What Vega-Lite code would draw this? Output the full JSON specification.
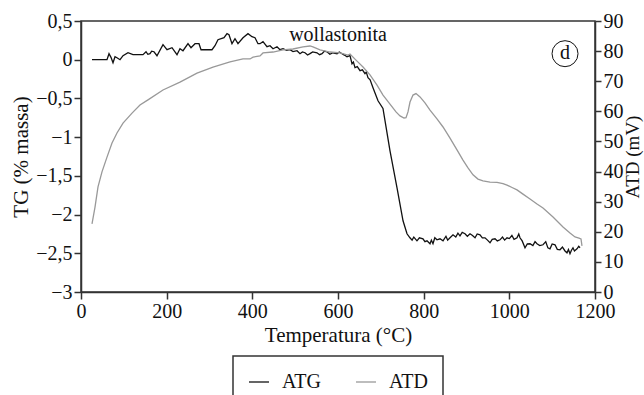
{
  "$schema": "https://vega.github.io/schema/vega-lite/v6.json",
  "width": 514,
  "height": 271,
  "autosize": "none",
  "padding": {"left": 81, "top": 21, "right": 49, "bottom": 103},
  "config": {
    "font": "Liberation Serif",
    "view": {"stroke": "#333", "strokeWidth": 1.5},
    "axis": {
      "grid": false,
      "labelFlush": false,
      "labelOverlap": false,
      "domainColor": "#333",
      "domainWidth": 1.5,
      "tickColor": "#333",
      "tickWidth": 1.5,
      "tickSize": 7,
      "labelFont": "Liberation Serif",
      "labelFontSize": 20,
      "labelColor": "#111",
      "labelPadding": 2,
      "titleFont": "Liberation Serif",
      "titleFontSize": 21,
      "titleFontWeight": "normal",
      "titleColor": "#111"
    },
    "legend": {
      "labelFont": "Liberation Serif",
      "labelFontSize": 20,
      "labelColor": "#111",
      "strokeColor": "#333",
      "strokeWidth": 1.5
    }
  },
  "datasets": {
    "tg": [
      {"s":"ATG","T":25.7,"v":0},{"s":"ATG","T":60.7,"v":0},{"s":"ATG","T":65.4,"v":0.078},{"s":"ATG","T":70,"v":0.03},{"s":"ATG","T":74.7,"v":-0.039},{"s":"ATG","T":79.4,"v":0.039},{"s":"ATG","T":84,"v":0.026},{"s":"ATG","T":91.1,"v":0},{"s":"ATG","T":98.1,"v":0.052},{"s":"ATG","T":109.7,"v":0.09},{"s":"ATG","T":121.4,"v":0.065},{"s":"ATG","T":144.7,"v":0.065},{"s":"ATG","T":151.8,"v":0.103},{"s":"ATG","T":156,"v":0.07},{"s":"ATG","T":161.1,"v":0.078},{"s":"ATG","T":165,"v":0.11},{"s":"ATG","T":170.4,"v":0.103},{"s":"ATG","T":177.4,"v":0.052},{"s":"ATG","T":191.4,"v":0.194},{"s":"ATG","T":200.8,"v":0.129},{"s":"ATG","T":212.5,"v":0.155},{"s":"ATG","T":224.1,"v":0.065},{"s":"ATG","T":231.1,"v":0.142},{"s":"ATG","T":238.1,"v":0.116},{"s":"ATG","T":249.8,"v":0.207},{"s":"ATG","T":256.8,"v":0.155},{"s":"ATG","T":266.2,"v":0.207},{"s":"ATG","T":275.5,"v":0.207},{"s":"ATG","T":280.2,"v":0.129},{"s":"ATG","T":305.8,"v":0.129},{"s":"ATG","T":312.8,"v":0.181},{"s":"ATG","T":319.8,"v":0.258},{"s":"ATG","T":333.9,"v":0.284},{"s":"ATG","T":340.9,"v":0.336},{"s":"ATG","T":345.5,"v":0.323},{"s":"ATG","T":352.5,"v":0.207},{"s":"ATG","T":359.5,"v":0.271},{"s":"ATG","T":366.5,"v":0.207},{"s":"ATG","T":378.2,"v":0.284},{"s":"ATG","T":389.9,"v":0.336},{"s":"ATG","T":399.2,"v":0.297},{"s":"ATG","T":406.2,"v":0.284},{"s":"ATG","T":413.2,"v":0.207},{"s":"ATG","T":417.9,"v":0.207},{"s":"ATG","T":424.9,"v":0.233},{"s":"ATG","T":434.2,"v":0.168},{"s":"ATG","T":441.3,"v":0.181},{"s":"ATG","T":448.3,"v":0.142},{"s":"ATG","T":457.6,"v":0.168},{"s":"ATG","T":464.6,"v":0.129},{"s":"ATG","T":471.6,"v":0.142},{"s":"ATG","T":480,"v":0.12},{"s":"ATG","T":487.9,"v":0.129},{"s":"ATG","T":495,"v":0.105},{"s":"ATG","T":504.3,"v":0.116},{"s":"ATG","T":511.3,"v":0.078},{"s":"ATG","T":517,"v":0.1},{"s":"ATG","T":523,"v":0.09},{"s":"ATG","T":529,"v":0.06},{"s":"ATG","T":534.6,"v":0.078},{"s":"ATG","T":541,"v":0.1},{"s":"ATG","T":551,"v":0.09},{"s":"ATG","T":557,"v":0.065},{"s":"ATG","T":562.7,"v":0.078},{"s":"ATG","T":568,"v":0.11},{"s":"ATG","T":574.3,"v":0.103},{"s":"ATG","T":581,"v":0.07},{"s":"ATG","T":588.3,"v":0.09},{"s":"ATG","T":597.7,"v":0.078},{"s":"ATG","T":603,"v":0.1},{"s":"ATG","T":609.3,"v":0.078},{"s":"ATG","T":615,"v":0.06},{"s":"ATG","T":621,"v":0.039},{"s":"ATG","T":628,"v":0.052},{"s":"ATG","T":632.7,"v":-0.052},{"s":"ATG","T":636,"v":-0.03},{"s":"ATG","T":639.7,"v":-0.103},{"s":"ATG","T":645,"v":-0.09},{"s":"ATG","T":651.4,"v":-0.142},{"s":"ATG","T":657,"v":-0.13},{"s":"ATG","T":663,"v":-0.181},{"s":"ATG","T":666,"v":-0.16},{"s":"ATG","T":670,"v":-0.233},{"s":"ATG","T":675,"v":-0.26},{"s":"ATG","T":681.7,"v":-0.362},{"s":"ATG","T":693.4,"v":-0.53},{"s":"ATG","T":705,"v":-0.63},{"s":"ATG","T":721.4,"v":-1.176},{"s":"ATG","T":737.8,"v":-1.654},{"s":"ATG","T":751.8,"v":-2.08},{"s":"ATG","T":761.1,"v":-2.248},{"s":"ATG","T":768,"v":-2.3},{"s":"ATG","T":773,"v":-2.33},{"s":"ATG","T":777,"v":-2.29},{"s":"ATG","T":784.4,"v":-2.339},{"s":"ATG","T":790,"v":-2.3},{"s":"ATG","T":798.4,"v":-2.313},{"s":"ATG","T":803,"v":-2.35},{"s":"ATG","T":807.8,"v":-2.339},{"s":"ATG","T":814.8,"v":-2.377},{"s":"ATG","T":818,"v":-2.33},{"s":"ATG","T":821.8,"v":-2.377},{"s":"ATG","T":826,"v":-2.3},{"s":"ATG","T":831.1,"v":-2.326},{"s":"ATG","T":838.1,"v":-2.313},{"s":"ATG","T":845.2,"v":-2.339},{"s":"ATG","T":852,"v":-2.28},{"s":"ATG","T":856,"v":-2.33},{"s":"ATG","T":861.5,"v":-2.3},{"s":"ATG","T":868.5,"v":-2.261},{"s":"ATG","T":875,"v":-2.29},{"s":"ATG","T":880,"v":-2.24},{"s":"ATG","T":884.8,"v":-2.274},{"s":"ATG","T":890,"v":-2.23},{"s":"ATG","T":896.5,"v":-2.248},{"s":"ATG","T":902,"v":-2.28},{"s":"ATG","T":908.2,"v":-2.248},{"s":"ATG","T":914,"v":-2.27},{"s":"ATG","T":919.9,"v":-2.3},{"s":"ATG","T":925,"v":-2.25},{"s":"ATG","T":931.5,"v":-2.261},{"s":"ATG","T":937,"v":-2.3},{"s":"ATG","T":943.2,"v":-2.3},{"s":"ATG","T":949,"v":-2.33},{"s":"ATG","T":954.9,"v":-2.364},{"s":"ATG","T":960,"v":-2.32},{"s":"ATG","T":966.6,"v":-2.313},{"s":"ATG","T":972,"v":-2.34},{"s":"ATG","T":978.2,"v":-2.326},{"s":"ATG","T":984,"v":-2.29},{"s":"ATG","T":989,"v":-2.33},{"s":"ATG","T":994.6,"v":-2.3},{"s":"ATG","T":1000,"v":-2.31},{"s":"ATG","T":1006,"v":-2.27},{"s":"ATG","T":1011,"v":-2.32},{"s":"ATG","T":1017.9,"v":-2.3},{"s":"ATG","T":1022,"v":-2.25},{"s":"ATG","T":1024.9,"v":-2.3},{"s":"ATG","T":1030,"v":-2.34},{"s":"ATG","T":1036.6,"v":-2.429},{"s":"ATG","T":1042,"v":-2.38},{"s":"ATG","T":1048.3,"v":-2.377},{"s":"ATG","T":1055,"v":-2.4},{"s":"ATG","T":1060,"v":-2.35},{"s":"ATG","T":1064.6,"v":-2.377},{"s":"ATG","T":1071,"v":-2.4},{"s":"ATG","T":1078.6,"v":-2.39},{"s":"ATG","T":1085,"v":-2.35},{"s":"ATG","T":1090,"v":-2.43},{"s":"ATG","T":1094.9,"v":-2.442},{"s":"ATG","T":1100,"v":-2.38},{"s":"ATG","T":1106.6,"v":-2.39},{"s":"ATG","T":1112,"v":-2.45},{"s":"ATG","T":1118.3,"v":-2.455},{"s":"ATG","T":1124,"v":-2.42},{"s":"ATG","T":1130,"v":-2.47},{"s":"ATG","T":1134.6,"v":-2.494},{"s":"ATG","T":1138,"v":-2.45},{"s":"ATG","T":1141.6,"v":-2.506},{"s":"ATG","T":1145,"v":-2.46},{"s":"ATG","T":1148.6,"v":-2.429},{"s":"ATG","T":1152,"v":-2.47},{"s":"ATG","T":1158,"v":-2.442},{"s":"ATG","T":1162,"v":-2.41},{"s":"ATG","T":1165,"v":-2.429}
    ],
    "dta": [
      {"s":"ATD","T":25.7,"v":22.6},{"s":"ATD","T":32.7,"v":28.2},{"s":"ATD","T":39.7,"v":34.9},{"s":"ATD","T":49,"v":39.9},{"s":"ATD","T":60.7,"v":44.8},{"s":"ATD","T":72.4,"v":49.5},{"s":"ATD","T":84,"v":52.8},{"s":"ATD","T":98.1,"v":56.1},{"s":"ATD","T":119.1,"v":59.4},{"s":"ATD","T":137.7,"v":62.1},{"s":"ATD","T":156.4,"v":63.8},{"s":"ATD","T":191.4,"v":67.1},{"s":"ATD","T":231.1,"v":69.7},{"s":"ATD","T":270.8,"v":72.7},{"s":"ATD","T":308.2,"v":74.7},{"s":"ATD","T":347.9,"v":76.4},{"s":"ATD","T":378.2,"v":77.4},{"s":"ATD","T":394.6,"v":77.4},{"s":"ATD","T":401.6,"v":78},{"s":"ATD","T":417.9,"v":78.4},{"s":"ATD","T":424.9,"v":79.4},{"s":"ATD","T":448.3,"v":79.7},{"s":"ATD","T":471.6,"v":80.4},{"s":"ATD","T":494.9,"v":80.7},{"s":"ATD","T":518.3,"v":81.4},{"s":"ATD","T":534.6,"v":81.7},{"s":"ATD","T":541.6,"v":81.4},{"s":"ATD","T":558,"v":80.4},{"s":"ATD","T":581.3,"v":79.7},{"s":"ATD","T":604.7,"v":79.4},{"s":"ATD","T":623.3,"v":78.7},{"s":"ATD","T":628,"v":79},{"s":"ATD","T":642,"v":77},{"s":"ATD","T":658.4,"v":74.7},{"s":"ATD","T":674.7,"v":72.1},{"s":"ATD","T":691.1,"v":68.7},{"s":"ATD","T":705.1,"v":65.4},{"s":"ATD","T":721.4,"v":62.4},{"s":"ATD","T":735.4,"v":59.8},{"s":"ATD","T":744.8,"v":58.5},{"s":"ATD","T":754.1,"v":57.8},{"s":"ATD","T":758.8,"v":57.9},{"s":"ATD","T":763.4,"v":59.8},{"s":"ATD","T":768.1,"v":63.1},{"s":"ATD","T":775.1,"v":65.4},{"s":"ATD","T":782.1,"v":65.9},{"s":"ATD","T":791.5,"v":64.8},{"s":"ATD","T":803.1,"v":62.8},{"s":"ATD","T":814.8,"v":60.4},{"s":"ATD","T":831.1,"v":57.5},{"s":"ATD","T":845.2,"v":54.8},{"s":"ATD","T":861.5,"v":51.1},{"s":"ATD","T":877.8,"v":47.2},{"s":"ATD","T":891.8,"v":43.8},{"s":"ATD","T":903.5,"v":41.2},{"s":"ATD","T":915.2,"v":38.9},{"s":"ATD","T":926.8,"v":37.5},{"s":"ATD","T":938.5,"v":36.9},{"s":"ATD","T":954.9,"v":36.5},{"s":"ATD","T":971.2,"v":36.4},{"s":"ATD","T":985.2,"v":36},{"s":"ATD","T":994.6,"v":35.5},{"s":"ATD","T":1006.3,"v":34.7},{"s":"ATD","T":1017.9,"v":33.9},{"s":"ATD","T":1031.9,"v":32.5},{"s":"ATD","T":1048.3,"v":30.9},{"s":"ATD","T":1064.6,"v":29.2},{"s":"ATD","T":1078.6,"v":27.9},{"s":"ATD","T":1102,"v":24.9},{"s":"ATD","T":1125.3,"v":21.6},{"s":"ATD","T":1141.6,"v":19.6},{"s":"ATD","T":1153.3,"v":18.3},{"s":"ATD","T":1162.6,"v":17.9},{"s":"ATD","T":1167.3,"v":17.6},{"s":"ATD","T":1169.6,"v":15.3}
    ],
    "notes": [
      {"T": 600, "v": 0.245, "txt": "wollastonita"}
    ],
    "panel": [
      {"T": 1130, "v": 0.078, "txt": "d"}
    ]
  },
  "encoding": {
    "x": {
      "field": "T", "type": "quantitative",
      "scale": {"domain": [0, 1200], "nice": false},
      "axis": {"values": [0, 200, 400, 600, 800, 1000, 1200], "format": "d", "title": "Temperatura (°C)", "titlePadding": 3}
    }
  },
  "layer": [
    {
      "encoding": {
        "y": {
          "field": "v", "type": "quantitative",
          "scale": {"domain": [-3, 0.5], "nice": false},
          "axis": {
            "values": [-3, -2.5, -2, -1.5, -1, -0.5, 0, 0.5],
            "format": ".1~f",
            "labelExpr": "replace(datum.label, '.', ',')",
            "title": "TG (% massa)",
            "titlePadding": 4
          }
        }
      },
      "layer": [
        {
          "data": {"name": "tg"},
          "mark": {"type": "line", "strokeWidth": 1.3, "interpolate": "linear"},
          "encoding": {
            "color": {
              "field": "s", "type": "nominal",
              "scale": {"domain": ["ATG", "ATD"], "range": ["#111111", "#999999"]},
              "legend": {
                "title": null,
                "orient": "none",
                "direction": "horizontal",
                "legendX": 152,
                "legendY": 335,
                "padding": 15,
                "symbolType": "stroke",
                "symbolSize": 400,
                "symbolStrokeWidth": 1.3,
                "labelOffset": 12,
                "columnPadding": 32
              }
            }
          }
        },
        {
          "data": {"name": "notes"},
          "mark": {"type": "text", "fontSize": 20, "baseline": "alphabetic", "align": "center", "color": "#111"},
          "encoding": {
            "text": {"field": "txt"}
          }
        },
        {
          "data": {"name": "panel"},
          "mark": {"type": "point", "shape": "circle", "size": 676, "filled": false, "stroke": "#111", "strokeWidth": 1, "opacity": 1},
          "encoding": {}
        },
        {
          "data": {"name": "panel"},
          "mark": {"type": "text", "fontSize": 20, "baseline": "middle", "align": "center", "color": "#111", "dy": -1},
          "encoding": {
            "text": {"field": "txt"}
          }
        }
      ]
    },
    {
      "data": {"name": "dta"},
      "mark": {"type": "line", "strokeWidth": 1.3},
      "encoding": {
        "y": {
          "field": "v", "type": "quantitative",
          "scale": {"domain": [0, 90], "nice": false},
          "axis": {
            "orient": "right",
            "values": [0, 10, 20, 30, 40, 50, 60, 70, 80, 90],
            "title": "ATD (mV)",
            "titleAngle": -90,
            "titleBaseline": "top",
            "titleFontSize": 19,
            "tickSize": 6,
            "titlePadding": 0
          }
        },
        "color": {"field": "s", "type": "nominal"}
      }
    }
  ],
  "resolve": {"scale": {"y": "independent"}}
}
